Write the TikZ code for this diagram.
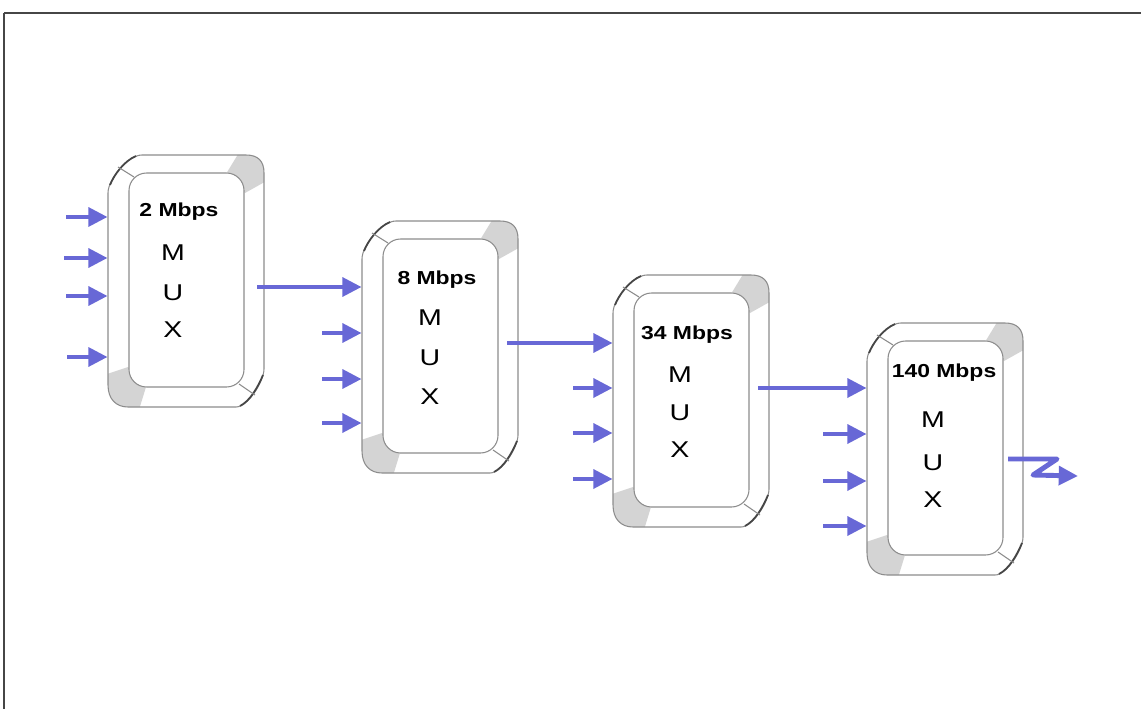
\documentclass[tikz,border=0pt]{standalone}
\usepackage{fontspec}
\setmainfont{Liberation Sans}
\usetikzlibrary{arrows.meta}
\definecolor{flowblue}{RGB}{104,104,214}
\definecolor{edgegray}{RGB}{140,140,140}
\definecolor{bevelgray}{RGB}{212,212,212}
\definecolor{framegray}{RGB}{70,70,70}
\newcommand\muxouter{(34,0) -- (138,0) .. controls (150,0) and (156,6) .. (156,18) -- (156,214) .. controls (156,226) and (140,252) .. (128,252) -- (20,252) .. controls (8,252) and (0,244) .. (0,230) -- (0,38) .. controls (0,24) and (20,0) .. (34,0) -- cycle}
\newcommand\drawmuxbox[2]{%
  \begin{scope}[shift={(#1,#2)}]
    \fill[white] \muxouter;
    \begin{scope}
      \clip \muxouter;
      \fill[bevelgray] (132,-4) -- (162,-4) -- (162,24) -- (137,38) -- (118,19) -- cycle;
      \fill[bevelgray] (-4,220) -- (20,212) -- (38,232) -- (30,258) -- (-4,258) -- cycle;
    \end{scope}
    \draw[edgegray, line width=0.6pt, fill=white, rounded corners=10pt] (21,18) rectangle (136,232);
    \draw[edgegray, line width=0.6pt] \muxouter;
    \draw[gray!55!black, line width=1pt] (2,30) .. controls (6,20) and (16,6) .. (28,1);
    \draw[edgegray, line width=0.6pt] (10,12) -- (26,22);
    \draw[gray!55!black, line width=1pt] (155,220) .. controls (150,232) and (142,246) .. (132,251);
    \draw[edgegray, line width=0.6pt] (131,229) -- (147,240);
  \end{scope}}
\tikzset{
  flow/.style={draw=flowblue, line width=2.8pt, line join=round, -{Triangle[length=11pt,width=10.5pt]}},
  boxarea/.style={minimum width=3.12cm, minimum height=5.04cm, inner sep=0pt, draw=none},
  ratelbl/.style={inner sep=0pt, font=\bfseries\fontsize{10.7}{12}\selectfont},
  muxlbl/.style={inner sep=0pt, font=\fontsize{13}{15}\selectfont}
}
\begin{document}
\begin{tikzpicture}[x=0.02cm, y=-0.02cm]
\useasboundingbox (0,0) rectangle (1141,709);
\fill[white] (0,0) rectangle (1141,709);
% frame
\draw[framegray, line width=1.2pt] (1141,13) -- (4,13);
\draw[framegray, line width=0.8pt] (4,13) -- (4,709);

% boxes
\drawmuxbox{108}{155}
\drawmuxbox{362}{221}
\drawmuxbox{613}{275}
\drawmuxbox{867}{323}
\node[boxarea] (m1) at (186,281) {};
\node[boxarea] (m2) at (440,347) {};
\node[boxarea] (m3) at (691,401) {};
\node[boxarea] (m4) at (945,449) {};

% labels
\node[ratelbl] (r1) at (179,212) {\scalebox{1.22}[1]{2 Mbps}};
\node[muxlbl] (a1) at (173,253) {\scalebox{1.25}[1]{M}};
\node[muxlbl] (b1) at (173,293) {\scalebox{1.25}[1]{U}};
\node[muxlbl] (c1) at (173,330) {\scalebox{1.25}[1]{X}};

\node[ratelbl] (r2) at (437,280) {\scalebox{1.22}[1]{8 Mbps}};
\node[muxlbl] (a2) at (430,318) {\scalebox{1.25}[1]{M}};
\node[muxlbl] (b2) at (430,358) {\scalebox{1.25}[1]{U}};
\node[muxlbl] (c2) at (430,397) {\scalebox{1.25}[1]{X}};

\node[ratelbl] (r3) at (687,335) {\scalebox{1.22}[1]{34 Mbps}};
\node[muxlbl] (a3) at (680,375) {\scalebox{1.25}[1]{M}};
\node[muxlbl] (b3) at (680,413) {\scalebox{1.25}[1]{U}};
\node[muxlbl] (c3) at (680,450) {\scalebox{1.25}[1]{X}};

\node[ratelbl] (r4) at (944,373) {\scalebox{1.22}[1]{140 Mbps}};
\node[muxlbl] (a4) at (933,420) {\scalebox{1.25}[1]{M}};
\node[muxlbl] (b4) at (933,463) {\scalebox{1.25}[1]{U}};
\node[muxlbl] (c4) at (933,500) {\scalebox{1.25}[1]{X}};

% input arrows, box 1
\coordinate (p11) at (66,217);
\coordinate (p12) at (64,258);
\coordinate (p13) at (66,296);
\coordinate (p14) at (67,357);
\foreach \p in {p11,p12,p13,p14} \draw[flow] (\p) -- (\p -| m1.west);

% box 1 -> box 2
\coordinate (o1) at (257,287);
\draw[flow] (o1) -- (o1 -| m2.west);
\coordinate (p22) at (322,333);
\coordinate (p23) at (322,379);
\coordinate (p24) at (322,423);
\foreach \p in {p22,p23,p24} \draw[flow] (\p) -- (\p -| m2.west);

% box 2 -> box 3
\coordinate (o2) at (507,343);
\draw[flow] (o2) -- (o2 -| m3.west);
\coordinate (p32) at (573,388);
\coordinate (p33) at (573,433);
\coordinate (p34) at (573,479);
\foreach \p in {p32,p33,p34} \draw[flow] (\p) -- (\p -| m3.west);

% box 3 -> box 4
\coordinate (o3) at (758,388);
\draw[flow] (o3) -- (o3 -| m4.west);
\coordinate (p42) at (823,434);
\coordinate (p43) at (823,481);
\coordinate (p44) at (823,526);
\foreach \p in {p42,p43,p44} \draw[flow] (\p) -- (\p -| m4.west);

% output of box 4
\coordinate (o4) at (1008,459);
\coordinate (z1) at (1057,459);
\coordinate (z2) at (1033,475);
\coordinate (z3) at (1078,476);
\draw[flow] (o4) -- (z1) -- (z2) -- (z3);
\end{tikzpicture}
\end{document}
